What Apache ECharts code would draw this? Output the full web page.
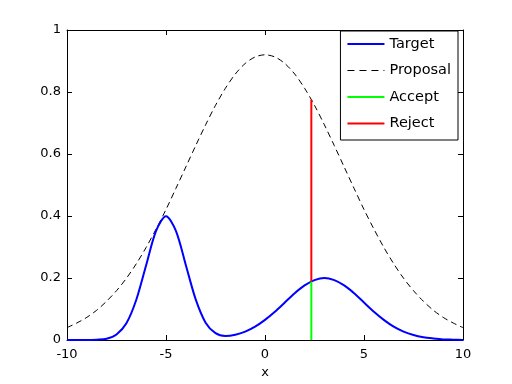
<!DOCTYPE html>
<html>
<head>
<meta charset="utf-8">
<script src="https://cdn.jsdelivr.net/npm/echarts@6/dist/echarts.min.js"></script>
<style>html,body{margin:0;padding:0;background:#fff}#c{width:512px;height:384px}</style>
</head>
<body>
<div id="c"></div>
<script>
const xs = [-10,-9.5,-9,-8.5,-8,-7.5,-7,-6.5,-6,-5.5,-5,-4.5,-4,-3.5,-3,-2.5,-2,-1.5,-1,-0.5,0,0.5,1,1.5,2,2.5,3,3.5,4,4.5,5,5.5,6,6.5,7,7.5,8,8.5,9,9.5,10];
const target = [0.000,0.000,0.000,0.001,0.004,0.018,0.054,0.130,0.242,0.352,0.399,0.352,0.242,0.131,0.056,0.022,0.013,0.017,0.027,0.043,0.065,0.091,0.121,0.151,0.176,0.193,0.200,0.193,0.176,0.151,0.121,0.091,0.065,0.043,0.027,0.016,0.009,0.005,0.002,0.001,0.000];
const proposal = [0.040,0.055,0.073,0.096,0.125,0.159,0.199,0.246,0.299,0.358,0.421,0.489,0.558,0.627,0.694,0.757,0.812,0.858,0.892,0.913,0.920,0.913,0.892,0.858,0.812,0.757,0.694,0.627,0.558,0.489,0.421,0.358,0.299,0.246,0.199,0.159,0.125,0.096,0.073,0.055,0.040];
const sampleX = 2.34;
const sampleTarget = 0.189;
const sampleProposal = 0.775;
const seriesNames = ['Target','Proposal','Accept','Reject'];
const xTicks = [-10,-5,0,5,10];
const yTicks = [0,0.2,0.4,0.6,0.8,1];

const font = '"DejaVu Sans", sans-serif';
const chart = echarts.init(document.getElementById('c'));
const baseAxis = () => ({
  axisLine:{show:true,onZero:false,lineStyle:{color:'#000',width:1}},
  axisTick:{show:true,inside:true,length:5,lineStyle:{color:'#000'}},
  splitLine:{show:false}
});
chart.setOption({
  animation:false,
  backgroundColor:'#fff',
  grid:{left:67,right:49,top:30,bottom:44,containLabel:false},
  legend:{
    orient:'vertical', right:54, top:31,
    itemWidth:37, itemHeight:14, itemGap:3.5,
    padding:[1.5,7,5,6],
    borderColor:'#000', borderWidth:1, backgroundColor:'#fff',
    itemStyle:{opacity:0},
    textStyle:{color:'#000',fontSize:14.5,fontFamily:font,lineHeight:17,padding:[0,0,6,0]},
    data:seriesNames.map(n => n === 'Proposal' ? {name:n, lineStyle:{width:1, type:[7,5]}} : {name:n})
  },
  xAxis:[
    Object.assign(baseAxis(),{type:'value',min:xTicks[0],max:xTicks[xTicks.length-1],interval:5,position:'bottom',
      name:'x',nameLocation:'middle',nameGap:22,nameTextStyle:{color:'#000',fontSize:13,fontFamily:font},
      axisLabel:{color:'#000',fontSize:13,fontFamily:font,margin:8,formatter:v=>String(v)}}),
    Object.assign(baseAxis(),{type:'value',min:-10,max:10,interval:5,position:'top',axisLabel:{show:false}})
  ],
  yAxis:[
    Object.assign(baseAxis(),{type:'value',min:yTicks[0],max:yTicks[yTicks.length-1],interval:0.2,position:'left',
      axisLabel:{color:'#000',fontSize:13,fontFamily:font,margin:6,formatter:v=>String(Math.round(v*10)/10)}}),
    Object.assign(baseAxis(),{type:'value',min:0,max:1,interval:0.2,position:'right',axisLabel:{show:false}})
  ],
  series:[
    {name:'Target',type:'line',smooth:0.3,symbol:'none',data:xs.map((x,i)=>[x,target[i]]),lineStyle:{color:'#0000ff',width:2},itemStyle:{color:'#0000ff'},z:3},
    {name:'Proposal',type:'line',smooth:0.3,symbol:'none',data:xs.map((x,i)=>[x,proposal[i]]),lineStyle:{color:'#000',width:1,type:[6,4]},itemStyle:{color:'#000'},z:2},
    {name:'Accept',type:'line',symbol:'none',data:[[sampleX,0],[sampleX,sampleTarget]],lineStyle:{color:'#00ff00',width:2},itemStyle:{color:'#00ff00'},z:4},
    {name:'Reject',type:'line',symbol:'none',data:[[sampleX,sampleTarget],[sampleX,sampleProposal]],lineStyle:{color:'#ff0000',width:2},itemStyle:{color:'#ff0000'},z:4}
  ]
});
</script>
</body>
</html>
